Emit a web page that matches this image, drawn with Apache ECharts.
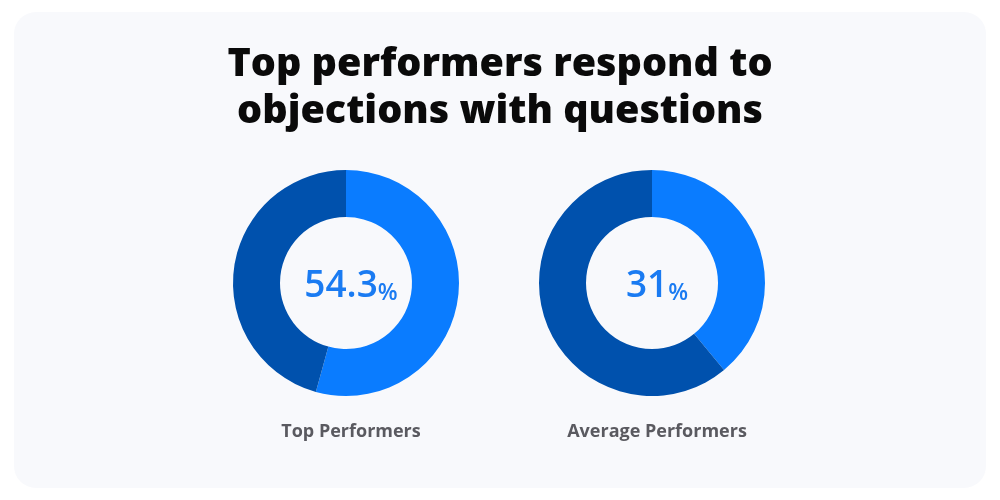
<!DOCTYPE html>
<html>
<head>
<meta charset="utf-8">
<script src="https://cdn.jsdelivr.net/npm/echarts@6/dist/echarts.min.js"></script>
<style>
html,body{margin:0;padding:0;background:#ffffff;}
#c{width:1000px;height:500px;}
</style>
</head>
<body>
<div id="c"></div>
<script>
const titleLines = ['Top performers respond to', 'objections with questions'];
const groups = ['Top Performers', 'Average Performers'];
const centerNumbers = ['54.3', '31'];
// share of ring drawn in light blue, remainder dark
const highlightShare = [54.3, 39];
const restShare = [45.7, 61];

const LIGHT = '#0a7cff';
const DARK = '#0051ad';
const centersX = ['34.6%', '65.2%'];

const chart = echarts.init(document.getElementById('c'), null, {renderer: 'canvas'});

const series = groups.map((g, i) => ({
  type: 'pie',
  name: g,
  center: [centersX[i], 283],
  radius: [66, 113],
  startAngle: 90,
  clockwise: true,
  silent: true,
  label: {show: false},
  labelLine: {show: false},
  itemStyle: {borderWidth: 0},
  data: [
    {name: g + ' yes', value: highlightShare[i], itemStyle: {color: LIGHT}},
    {name: g + ' other', value: restShare[i], itemStyle: {color: DARK}}
  ]
}));

const titles = [{
  text: titleLines.join('\n'),
  left: 'center',
  top: 36,
  textStyle: {
    fontFamily: 'Open Sans',
    fontWeight: 800,
    fontSize: 39.5,
    lineHeight: 47,
    color: '#0a0a0a'
  }
}];
groups.forEach((g, i) => {
  titles.push({
    text: '{n|' + centerNumbers[i] + '}{p|%}',
    left: centersX[i],
    top: 280,
    textAlign: 'center',
    textVerticalAlign: 'middle',
    textStyle: {
      rich: {
        n: {fontFamily: 'Open Sans', fontWeight: 600, fontSize: 37, color: '#1a7bf2', verticalAlign: 'bottom', lineHeight: 40},
        p: {fontFamily: 'Open Sans', fontWeight: 600, fontSize: 23, color: '#1a7bf2', verticalAlign: 'bottom', lineHeight: 36}
      }
    }
  });
  titles.push({
    text: g,
    left: centersX[i],
    top: 427,
    textAlign: 'center',
    textVerticalAlign: 'middle',
    textStyle: {fontFamily: 'Open Sans', fontWeight: 700, fontSize: 18, color: '#5a5a60'}
  });
});

chart.setOption({
  backgroundColor: '#ffffff',
  animation: false,
  graphic: [{
    type: 'rect',
    z: -10,
    shape: {x: 14, y: 12, width: 972, height: 476, r: 22},
    style: {fill: '#f8f9fc'}
  }],
  title: titles,
  series: series
});
</script>
</body>
</html>
